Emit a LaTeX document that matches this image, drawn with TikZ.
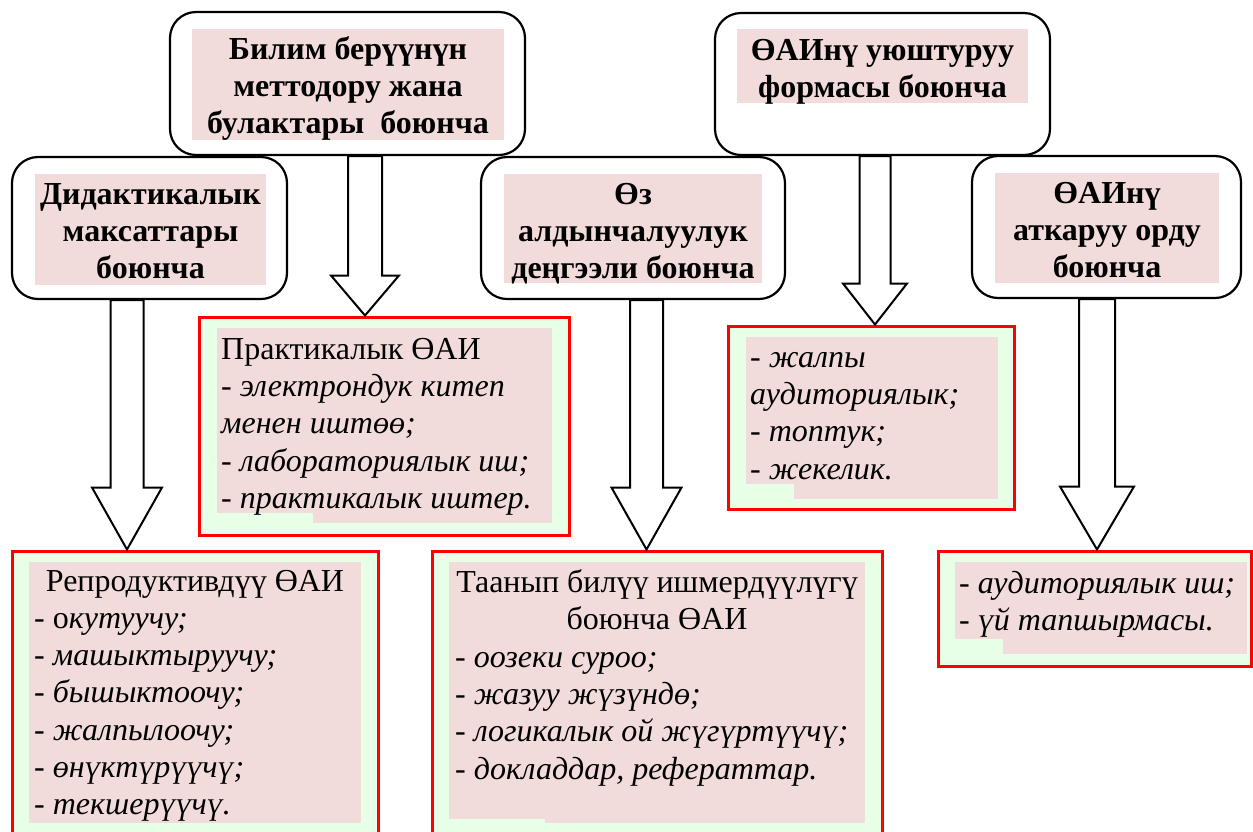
\documentclass[tikz,border=0pt]{standalone}
\usepackage{fontspec}
\setmainfont{Liberation Serif}
\usetikzlibrary{calc}
\definecolor{pinkfill}{HTML}{F2DCDB}
\definecolor{greenfill}{HTML}{E6FFE6}
\tikzset{
  headbox/.style={draw=black, line width=2.2pt, rounded corners=26pt, fill=white, inner sep=0pt},
  redbox/.style={draw=red, line width=3pt, fill=greenfill, inner sep=0pt},
  pinkrect/.style={fill=pinkfill},
  greenpatch/.style={fill=greenfill},
  headtext/.style={font=\fontsize{32}{37.3}\selectfont\bfseries, align=center, inner sep=0pt, anchor=north},
  bodytext/.style={font=\fontsize{32}{37.3}\selectfont, align=left, inner sep=0pt, anchor=north west},
  centtext/.style={font=\fontsize{32}{37.3}\selectfont, align=center, inner sep=0pt, anchor=north},
  blockarrow/.style={draw=black, line width=2pt, fill=white, line join=miter},
}
% #1 from node, #2 to node, #3 x centre, #4 shaft half width, #5 head half width, #6 head length
\newcommand\blockarr[6]{%
  \draw[blockarrow] let \p1=(#1.south), \p2=(#2.north) in
    ({#3pt-#4pt},\y1) -- ({#3pt-#4pt},{\y2+#6pt}) -- ({#3pt-#5pt},{\y2+#6pt})
    -- (#3pt,\y2) -- ({#3pt+#5pt},{\y2+#6pt}) -- ({#3pt+#4pt},{\y2+#6pt})
    -- ({#3pt+#4pt},\y1) -- cycle;}
\begin{document}
\begin{tikzpicture}[x=1pt,y=-1pt]
\useasboundingbox (0,0) rectangle (1253,831);
\clip (0,0) rectangle (1253,831);

% ---- heading boxes ----
\node[headbox, minimum width=355pt, minimum height=143pt] (A) at (347.5,83.5) {};
\fill[pinkrect] (192,29) rectangle (504,140);
\node[headtext] (At) at (348,32.9) {\strut Билим берүүнүн\\меттодору жана\\булактары\ \ боюнча};

\node[headbox, minimum width=335pt, minimum height=142pt] (B) at (882.5,84) {};
\fill[pinkrect] (737,29) rectangle (1028,103);
\node[headtext] (Bt) at (882.5,33.9) {\strut ӨАИнү уюштуруу\\формасы боюнча};

\node[headbox, minimum width=275pt, minimum height=142pt] (C) at (149.5,228) {};
\fill[pinkrect] (35,174) rectangle (266,285);
\node[headtext] (Ct) at (150.5,177.9) {\strut Дидактикалык\\максаттары\\боюнча};

\node[headbox, minimum width=304pt, minimum height=142pt] (D) at (633,228) {};
\fill[pinkrect] (504,174) rectangle (762,283);
\node[headtext] (Dt) at (633,177.9) {\strut Өз\\алдынчалуулук\\деңгээли боюнча};

\node[headbox, minimum width=269pt, minimum height=142pt] (E) at (1106.5,227) {};
\fill[pinkrect] (995,173) rectangle (1219,283);
\node[headtext] (Et) at (1107,176.9) {\strut ӨАИнү\\аткаруу орду\\боюнча};

% ---- content boxes ----
\node[redbox, minimum width=370pt, minimum height=218pt] (P) at (384,426) {};
\fill[pinkrect] (217,328) rectangle (552,523);
\fill[greenpatch] (217,513) rectangle (313,523);
\node[bodytext] (Pt) at (221,332.9) {\strut Практикалык ӨАИ\\- \textit{электрондук китеп}\\\textit{менен иштөө;}\\- \textit{лабораториялык иш;}\\- \textit{практикалык иштер.}};

\node[redbox, minimum width=366pt, minimum height=300pt] (R) at (195,701) {};
\fill[pinkrect] (29,562) rectangle (361,823);
\node[centtext] (Rh) at (195,564.9) {\strut Репродуктивдүү ӨАИ};
\node[bodytext] (Rt) at (34,601.9) {\strut - о\textit{кутуучу;}\\- \textit{машыктыруучу;}\\- \textit{бышыктоочу;}\\- \textit{жалпылоочу;}\\- \textit{өнүктүрүүчү;}\\- \textit{текшерүүчү.}};

\node[redbox, minimum width=450pt, minimum height=300pt] (G) at (657,701) {};
\fill[pinkrect] (449,562) rectangle (865,823);
\fill[greenpatch] (449,819) rectangle (545,823);
\node[centtext] (Gh) at (657,565.9) {\strut Таанып билүү ишмердүүлүгү\\боюнча ӨАИ};
\node[bodytext] (Gt) at (455,640.9) {\strut - \textit{оозеки суроо;}\\- \textit{жазуу жүзүндө;}\\- \textit{логикалык ой жүгүртүүчү;}\\- \textit{докладдар, рефераттар.}};

\node[redbox, minimum width=286pt, minimum height=183pt] (F) at (871,417.5) {};
\fill[pinkrect] (746,337) rectangle (998,499);
\fill[greenpatch] (746,484) rectangle (794,499);
\node[bodytext] (Ft) at (750,340.9) {\strut - \textit{жалпы}\\\textit{аудиториялык;}\\- \textit{топтук;}\\- \textit{жекелик.}};

\node[redbox, minimum width=313pt, minimum height=115pt] (L) at (1094.5,608.5) {};
\fill[pinkrect] (955,562) rectangle (1247,654);
\fill[greenpatch] (955,639) rectangle (1003,654);
\node[bodytext] (Lt) at (959,566.9) {\strut - \textit{аудиториялык иш;}\\- \textit{үй тапшырмасы.}};

% ---- block arrows ----
\blockarr{A}{P}{365}{17}{34}{40}
\blockarr{B}{F}{875}{15.5}{32}{41}
\blockarr{C}{R}{127}{16.5}{35}{62}
\blockarr{D}{G}{646.5}{16.5}{35}{62}
\blockarr{E}{L}{1097}{18}{37}{63}
\end{tikzpicture}
\end{document}
